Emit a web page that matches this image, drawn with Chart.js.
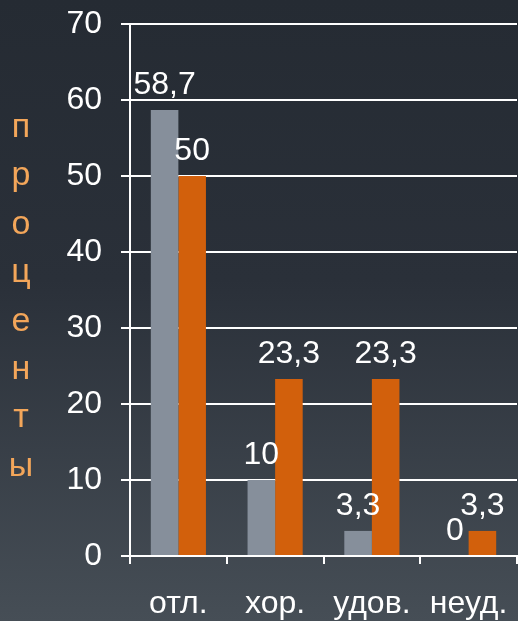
<!DOCTYPE html>
<html>
<head>
<meta charset="utf-8">
<script src="https://cdn.jsdelivr.net/npm/chart.js@4/dist/chart.umd.min.js"></script>
<style>
  html, body { margin: 0; padding: 0; }
  body { width: 518px; height: 621px; background: linear-gradient(#252b33 0%, #2a3039 45%, #464e56 100%); }
  #wrap { position: relative; width: 518px; height: 621px; }
</style>
</head>
<body>
<div id="wrap"><canvas id="marksChart"></canvas></div>
<script>
const grades = ["отл.", "хор.", "удов.", "неуд."];
const groupA = [58.7, 10, 3.3, 0];
const groupB = [50, 23.3, 23.3, 3.3];
const yTicks = [0, 10, 20, 30, 40, 50, 60, 70];
const axisTitle = "проценты";

const FONT = "'Liberation Sans', Arial, sans-serif";
const fmt = v => String(v).replace(".", ",");

// value labels above each bar
const barLabels = {
  id: "barLabels",
  afterDatasetsDraw(chart) {
    const ctx = chart.ctx;
    ctx.save();
    ctx.font = "32px " + FONT;
    ctx.fillStyle = "#ffffff";
    ctx.textAlign = "center";
    ctx.textBaseline = "bottom";
    chart.data.datasets.forEach((ds, i) => {
      chart.getDatasetMeta(i).data.forEach((bar, j) => {
        ctx.fillText(fmt(ds.data[j]), bar.x, bar.y - 9);
      });
    });
    ctx.restore();
  }
};

// vertical, letter-by-letter axis title
const stackedTitle = {
  id: "stackedTitle",
  afterDraw(chart) {
    const ctx = chart.ctx;
    const area = chart.chartArea;
    const step = 48.4;
    const letters = Array.from(axisTitle);
    const mid = (area.top + area.bottom) / 2 + 7;
    const start = mid - step * (letters.length - 1) / 2;
    ctx.save();
    ctx.font = "34px " + FONT;
    ctx.fillStyle = "#f3a65a";
    ctx.textAlign = "center";
    ctx.textBaseline = "middle";
    letters.forEach((ch, k) => ctx.fillText(ch, 21, start + k * step));
    ctx.restore();
  }
};

new Chart(document.getElementById("marksChart"), {
  type: "bar",
  data: {
    labels: grades,
    datasets: [
      { data: groupA, backgroundColor: "#868f9b", borderWidth: 0, barPercentage: 1, categoryPercentage: 0.57 },
      { data: groupB, backgroundColor: "#d2600c", borderWidth: 0, barPercentage: 1, categoryPercentage: 0.57 }
    ]
  },
  options: {
    responsive: true,
    maintainAspectRatio: false,
    animation: false,
    layout: { padding: { top: 24, right: 1 } },
    plugins: { legend: { display: false }, tooltip: { enabled: false } },
    scales: {
      x: {
        afterFit: s => { s.height = 65; s.paddingLeft = 0; s.paddingRight = 0; },
        grid: { color: "#ffffff", lineWidth: 2, drawOnChartArea: false, tickLength: 8, offset: true },
        border: { color: "#ffffff", width: 2 },
        ticks: { color: "#ffffff", padding: 21, font: { family: FONT, size: 32 } }
      },
      y: {
        min: 0,
        max: 70,
        afterFit: s => { s.width = 130; s.paddingTop = 0; s.paddingBottom = 0; },
        afterBuildTicks: s => { s.ticks = yTicks.map(v => ({ value: v })); },
        grid: { color: "#ffffff", lineWidth: 2, tickLength: 9 },
        border: { color: "#ffffff", width: 2 },
        ticks: { color: "#ffffff", padding: 19, font: { family: FONT, size: 32 } }
      }
    }
  },
  plugins: [barLabels, stackedTitle]
});
</script>
</body>
</html>
